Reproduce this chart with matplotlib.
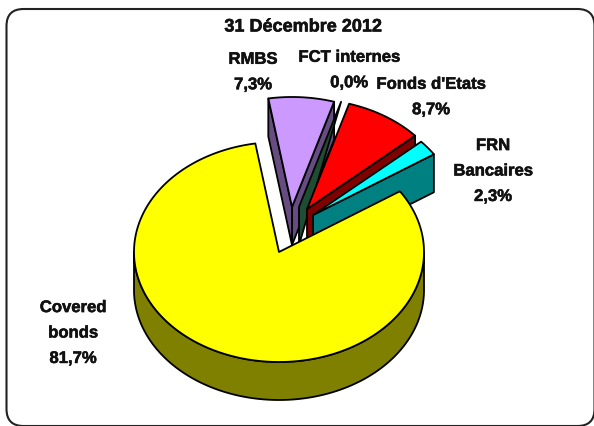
import numpy as np
import matplotlib.pyplot as plt
import matplotlib.patheffects as pe
from matplotlib.patches import Polygon, FancyBboxPatch

title = "31 Décembre 2012"
names = ["Covered\nbonds", "FRN\nBancaires", "Fonds d'Etats", "FCT internes", "RMBS"]
values = [81.7, 2.3, 8.7, 0.0, 7.3]

top_colors = ["#FFFF00", "#00FFFF", "#FF0000", "#1F4D33", "#CC99FF"]
side_colors = ["#808000", "#008080", "#800000", "#1F4D33", "#664C80"]
# how far each slice is pulled out of the pie, in pixels
shift_x = [0, 34, 28, 20, 13]
shift_y = [0, -37, -43, -45, -45]
label_x = [73, 493, 431, 349, 253]
label_y = [333, 171, 97, 70, 72]
draw_order = [4, 3, 2, 1, 0]

cx, cy = 279, 252
rx, ry = 145, 110
depth = 38
first_angle = 99.4


def rim(a1, a2, x0, y0, dz=0):
    t = np.radians(np.linspace(a1, a2, max(int(abs(a2 - a1)) * 2, 2)))
    return np.column_stack([x0 + rx * np.cos(t), y0 - ry * np.sin(t) + dz])


def draw_slice(ax, a1, a2, x0, y0, top, side, z):
    style = dict(edgecolor="black", linewidth=1.3, joinstyle="round", zorder=z)
    apex = np.array([x0, y0])
    low = apex + [0, depth]
    if a2 == a1:
        # empty slice: only a thin sliver of wall shows
        tip = rim(a1, a1, x0, y0)[0]
        ax.add_patch(Polygon([apex, tip, low], closed=True, facecolor=side, **style))
        return
    # cut faces turned towards the viewer
    faces = []
    if np.cos(np.radians(a1)) > 0:
        faces.append(a1)
    if np.cos(np.radians(a2)) < 0:
        faces.append(a2)
    for a in faces:
        p = rim(a, a, x0, y0)[0]
        ax.add_patch(Polygon([apex, p, p + [0, depth], low], closed=True, facecolor=side, **style))
    # front part of the outer wall, angles 180 to 360
    b1, b2 = max(a1, 180), min(a2, 360)
    if b2 > b1:
        wall = np.vstack([rim(b1, b2, x0, y0), rim(b2, b1, x0, y0, depth)])
        ax.add_patch(Polygon(wall, closed=True, facecolor=side, **style))
    ax.add_patch(Polygon(np.vstack([apex, rim(a1, a2, x0, y0)]), closed=True, facecolor=top, **style))


fig = plt.figure(figsize=(5.94, 4.26), dpi=100)
ax = fig.add_axes([0, 0, 1, 1])
ax.set_xlim(0, 594)
ax.set_ylim(426, 0)
ax.axis("off")

# the rounded frame runs off the right and bottom edges
ax.add_patch(FancyBboxPatch((6.5, 9), 588, 417, boxstyle="round,pad=0,rounding_size=17",
                            facecolor="none", edgecolor="#222222", linewidth=1.5))

# slices run counter-clockwise from the top
sweep = np.array(values) * 3.6
starts = first_angle + np.concatenate([[0], np.cumsum(sweep)[:-1]])
for z, i in enumerate(draw_order):
    draw_slice(ax, starts[i], starts[i] + sweep[i], cx + shift_x[i], cy + shift_y[i],
               top_colors[i], side_colors[i], 2 + z)

# a thin stroke makes the bold labels a little heavier
font = dict(family="Liberation Sans", fontweight="bold", color="#111111",
            ha="center", va="center", linespacing=1.87, zorder=10,
            path_effects=[pe.withStroke(linewidth=0.4, foreground="#111111")])
ax.text(303, 27, title, fontsize=13, **font)
for name, v, x, y in zip(names, values, label_x, label_y):
    pct = f"{v:.1f}".replace(".", ",") + "%"
    ax.text(x, y, name + "\n" + pct, fontsize=12, **font)

fig.savefig("out.png", dpi=100)
